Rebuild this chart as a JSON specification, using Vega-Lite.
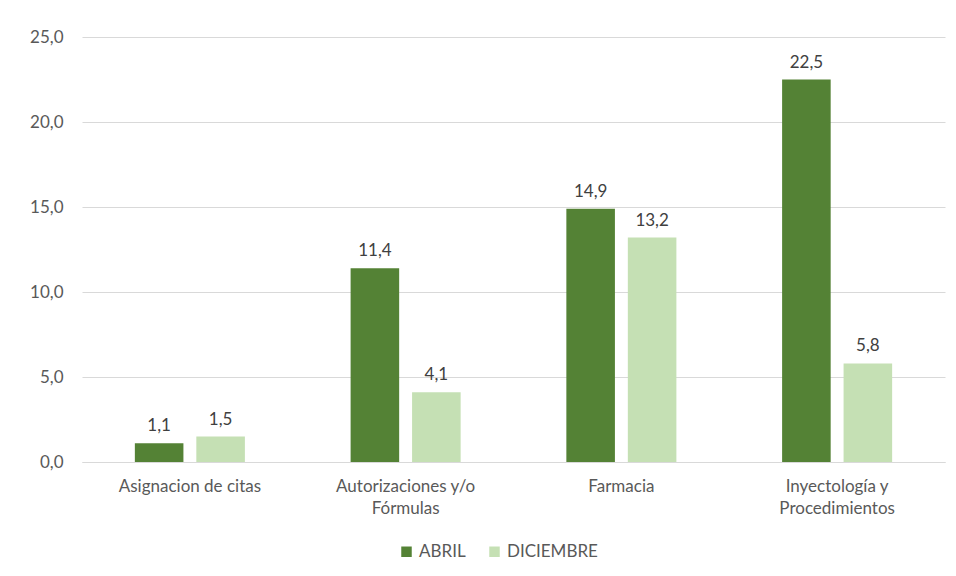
{
  "$schema": "https://vega.github.io/schema/vega-lite/v6.json",
  "autosize": {"type": "none"},
  "width": 863,
  "height": 425,
  "padding": {"left": 82, "top": 37, "right": 11, "bottom": 114},
  "background": "white",
  "config": {
    "font": "Lato",
    "locale": {"number": {"decimal": ",", "thousands": ".", "grouping": [3], "currency": ["", " €"]}},
    "view": {"stroke": null},
    "axis": {"labelColor": "#595959", "labelFont": "Lato", "labelFontSize": 17}
  },
  "data": {
    "values": [
      {"cat": "Asignacion de citas", "mes": "ABRIL", "valor": 1.1},
      {"cat": "Asignacion de citas", "mes": "DICIEMBRE", "valor": 1.5},
      {"cat": "Autorizaciones y/o|Fórmulas", "mes": "ABRIL", "valor": 11.4},
      {"cat": "Autorizaciones y/o|Fórmulas", "mes": "DICIEMBRE", "valor": 4.1},
      {"cat": "Farmacia", "mes": "ABRIL", "valor": 14.9},
      {"cat": "Farmacia", "mes": "DICIEMBRE", "valor": 13.2},
      {"cat": "Inyectología y|Procedimientos", "mes": "ABRIL", "valor": 22.5},
      {"cat": "Inyectología y|Procedimientos", "mes": "DICIEMBRE", "valor": 5.8}
    ]
  },
  "encoding": {
    "x": {
      "field": "cat", "type": "nominal", "sort": null, "title": null,
      "scale": {"paddingInner": 0.49, "paddingOuter": 0.245},
      "axis": {
        "labelAngle": 0, "ticks": false, "domainColor": "#d9d9d9", "domainWidth": 1,
        "labelPadding": 24, "labelLineHeight": 22, "labelBaseline": "middle",
        "labelExpr": "split(datum.label, '|')"
      }
    },
    "xOffset": {"field": "mes", "type": "nominal", "scale": {"paddingInner": 0.21}},
    "y": {
      "field": "valor", "type": "quantitative", "title": null,
      "scale": {"domain": [0, 25], "nice": false},
      "axis": {
        "values": [0, 5, 10, 15, 20, 25], "domain": false, "ticks": false,
        "gridColor": "#d9d9d9", "labelPadding": 19, "format": ".1f"
      }
    },
    "color": {
      "field": "mes", "type": "nominal", "title": null,
      "scale": {"domain": ["ABRIL", "DICIEMBRE"], "range": ["#548235", "#c5e0b4"]},
      "legend": {
        "orient": "none", "legendX": 316, "legendY": 506, "direction": "horizontal",
        "symbolType": "square", "symbolSize": 110, "symbolStrokeWidth": 0,
        "labelFontSize": 17, "labelColor": "#595959",
        "labelFont": "Lato", "columnPadding": 20, "labelOffset": 4
      }
    }
  },
  "layer": [
    {"mark": {"type": "bar"}},
    {
      "mark": {"type": "text", "baseline": "bottom", "dy": -8, "fontSize": 17, "font": "Lato"},
      "encoding": {
        "text": {"field": "valor", "type": "quantitative", "format": ".1f"},
        "color": {"value": "#404040"}
      }
    }
  ]
}
